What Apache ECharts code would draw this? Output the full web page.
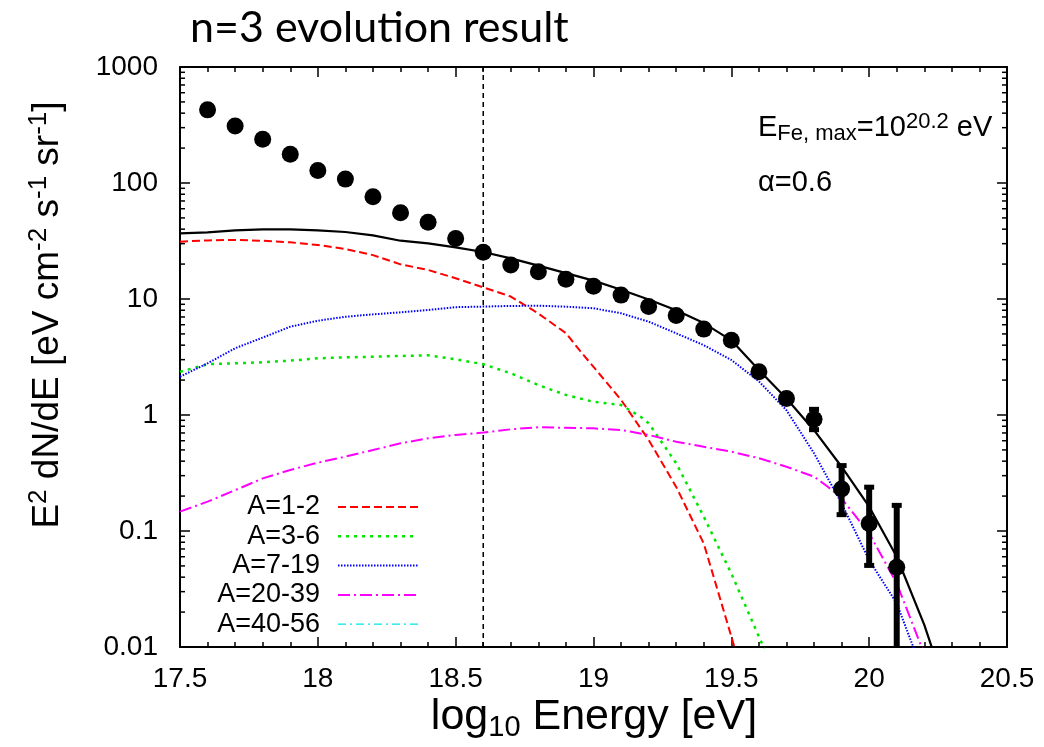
<!DOCTYPE html>
<html><head><meta charset="utf-8">
<script src="https://cdn.jsdelivr.net/npm/echarts@6/dist/echarts.min.js"></script>
<style>html,body{margin:0;padding:0;background:#fff}#c{width:1044px;height:747px}</style>
</head><body><div id="c"></div>
<script>
// ---------- data ----------
const yTickLabels = ['0.01', '0.1', '1', '10', '100', '1000'];
const xTickLabels = ['17.5', '18', '18.5', '19', '19.5', '20', '20.5'];

const dataE    = [17.6, 17.7, 17.8, 17.9, 18.0, 18.1, 18.2, 18.3, 18.4, 18.5, 18.6, 18.7, 18.8, 18.9, 19.0, 19.1, 19.2, 19.3, 19.4, 19.5, 19.6, 19.7, 19.8, 19.9, 20.0, 20.1];
const dataFlux = [427, 310, 238, 177, 128, 108, 76, 55.5, 45.8, 33.3, 25.3, 19.6, 17.2, 14.8, 12.9, 10.8, 8.6, 7.2, 5.5, 4.4, 2.36, 1.39, 0.92, 0.23, 0.116, 0.0486];

const errE    = [19.8, 19.9, 20.0, 20.1];
const errLow  = [0.74, 0.137, 0.050, 0.004];
const errHigh = [1.13, 0.37, 0.241, 0.168];

const totalE    = [17.5, 17.6, 17.7, 17.8, 17.9, 18.0, 18.1, 18.2, 18.3, 18.4, 18.5, 18.6, 18.7, 18.8, 18.9, 19.0, 19.1, 19.2, 19.3, 19.4, 19.5, 19.6, 19.7, 19.8, 19.9, 20.0, 20.1, 20.2, 20.23, 20.26];
const totalFlux = [36.8, 37.6, 39.1, 39.9, 39.9, 39.1, 37.8, 35.4, 31.8, 30.2, 27.9, 25.4, 22.4, 19.4, 16.7, 14.4, 12.0, 9.9, 8.0, 6.2, 4.4, 2.44, 1.39, 0.74, 0.358, 0.162, 0.060, 0.0155, 0.0095, 0.006];

const a12E    = [17.5, 17.6, 17.7, 17.8, 17.9, 18.0, 18.1, 18.2, 18.3, 18.4, 18.5, 18.6, 18.7, 18.8, 18.9, 18.95, 19.0, 19.1, 19.2, 19.3, 19.4, 19.5, 19.52];
const a12Flux = [31.2, 32.0, 32.3, 31.8, 30.8, 29.2, 27.0, 23.9, 19.9, 17.8, 15.1, 12.6, 10.5, 7.5, 5.07, 3.6, 2.6, 1.35, 0.61, 0.24, 0.078, 0.0123, 0.0085];

const a36E    = [17.5, 17.6, 17.7, 17.8, 17.9, 18.0, 18.1, 18.2, 18.3, 18.4, 18.5, 18.6, 18.7, 18.8, 18.9, 19.0, 19.1, 19.17, 19.2, 19.3, 19.4, 19.5, 19.6, 19.63];
const a36Flux = [2.36, 2.74, 2.79, 2.85, 2.94, 3.08, 3.14, 3.18, 3.23, 3.27, 3.02, 2.74, 2.29, 1.81, 1.49, 1.30, 1.22, 0.97, 0.85, 0.384, 0.133, 0.043, 0.0123, 0.0085];

const a719E    = [17.5, 17.6, 17.7, 17.8, 17.9, 18.0, 18.1, 18.2, 18.3, 18.4, 18.5, 18.6, 18.7, 18.8, 18.9, 19.0, 19.1, 19.2, 19.3, 19.4, 19.5, 19.6, 19.7, 19.8, 19.9, 20.0, 20.1, 20.16, 20.2];
const a719Flux = [2.14, 2.79, 3.76, 4.65, 5.77, 6.50, 7.03, 7.37, 7.68, 8.04, 8.5, 8.6, 8.71, 8.75, 8.59, 8.32, 7.53, 6.38, 5.06, 4.0, 2.98, 1.95, 1.10, 0.468, 0.173, 0.056, 0.0238, 0.01, 0.006];

const a2039E    = [17.5, 17.6, 17.7, 17.8, 17.9, 18.0, 18.1, 18.2, 18.3, 18.4, 18.5, 18.6, 18.7, 18.8, 18.9, 19.0, 19.1, 19.2, 19.3, 19.4, 19.5, 19.6, 19.7, 19.8, 19.85, 19.9, 20.0, 20.1, 20.19, 20.22];
const a2039Flux = [0.147, 0.179, 0.225, 0.284, 0.336, 0.388, 0.438, 0.499, 0.570, 0.630, 0.673, 0.705, 0.753, 0.784, 0.776, 0.767, 0.743, 0.673, 0.589, 0.533, 0.483, 0.424, 0.358, 0.294, 0.241, 0.191, 0.0955, 0.0354, 0.01, 0.007];

const a4056E    = [];
const a4056Flux = [];

const vlineE = 18.6;

const legendNames = ['A=1-2', 'A=3-6', 'A=7-19', 'A=20-39', 'A=40-56'];

// ---------- styles ----------
const FONT = "'Liberation Sans', Arial, Helvetica, sans-serif";
const styles = [
  { color: '#ff0000', type: [8, 4], width: 2 },
  { color: '#00e600', type: [3, 5], width: 2.5 },
  { color: '#0000ff', type: [1.5, 1.5], width: 2 },
  { color: '#ff00ff', type: [12, 4, 2, 4], width: 2 },
  { color: '#00e5ee', type: [8, 4, 2, 4], width: 1.2 }
];

const zip = (a, b) => a.map((v, i) => [v, b[i]]);

const X0 = 17.5, X1 = 20.5;
const yMinor = [];
for (let d = -2; d < 3; d++) for (let k = 2; k <= 9; k++) yMinor.push([X0, k * Math.pow(10, d)]);

const chart = echarts.init(document.getElementById('c'), null, { renderer: 'canvas' });

const grid = { left: 180, right: 37, top: 67, bottom: 100 };

const xAxisBase = {
  type: 'value', min: X0, max: X1, interval: 0.5,
  axisLine: { show: true, onZero: false, lineStyle: { color: '#000', width: 2 } },
  axisTick: { show: true, inside: true, length: 10, lineStyle: { color: '#000', width: 1.5 } },
  minorTick: { show: true, splitNumber: 5, length: 5, lineStyle: { color: '#000', width: 1.5 } },
  splitLine: { show: false }, minorSplitLine: { show: false }
};
const yAxisBase = {
  type: 'log', logBase: 10, min: 0.01, max: 1000,
  axisLine: { show: true, onZero: false, lineStyle: { color: '#000', width: 2 } },
  axisTick: { show: true, inside: true, length: 10, lineStyle: { color: '#000', width: 1.5 } },
  minorTick: { show: false },
  splitLine: { show: false }
};

const lineSeries = (name, E, F, st) => ({
  name, type: 'line', data: zip(E, F), showSymbol: false, symbol: 'none',
  smooth: false, clip: true, z: 3,
  lineStyle: { color: st.color, width: st.width, type: st.type }
});

const legendGraphics = [];
const legY0 = 507, legDy = 29.3;
legendNames.forEach((n, i) => {
  const y = legY0 + i * legDy;
  legendGraphics.push({
    type: 'text', x: 320, y: y,
    style: { text: n, font: '27px ' + FONT, fill: '#000', align: 'right', verticalAlign: 'middle' }
  });
  legendGraphics.push({
    type: 'line', shape: { x1: 338, y1: y, x2: 418, y2: y },
    style: { stroke: styles[i].color, lineWidth: styles[i].width, lineDash: styles[i].type }
  });
});

const option = {
  backgroundColor: '#fff',
  animation: false,
  grid: grid,
  xAxis: [
    Object.assign({}, xAxisBase, {
      position: 'bottom',
      axisLabel: { show: true, margin: 18, fontSize: 28, fontFamily: FONT, color: '#000',
        formatter: (v) => xTickLabels[Math.round((v - X0) / 0.5)] }
    }),
    Object.assign({}, xAxisBase, { position: 'top', axisLabel: { show: false } })
  ],
  yAxis: [
    Object.assign({}, yAxisBase, {
      position: 'left',
      axisLabel: { show: true, margin: 22, fontSize: 28, fontFamily: FONT, color: '#000',
        formatter: (v) => yTickLabels[Math.round(Math.log10(v)) + 2] }
    }),
    Object.assign({}, yAxisBase, { position: 'right', axisLabel: { show: false } })
  ],
  series: [
    {
      name: 'minorTicks', type: 'custom', data: yMinor, silent: true, z: 5,
      encode: { x: 0, y: 1 },
      renderItem: (params, api) => {
        const p = api.coord([api.value(0), api.value(1)]);
        const cs = params.coordSys;
        const st = { stroke: '#000', lineWidth: 1.5 };
        return { type: 'group', children: [
          { type: 'line', shape: { x1: cs.x, y1: p[1], x2: cs.x + 5, y2: p[1] }, style: st },
          { type: 'line', shape: { x1: cs.x + cs.width, y1: p[1], x2: cs.x + cs.width - 5, y2: p[1] }, style: st }
        ]};
      }
    },
    {
      name: 'vline', type: 'line', data: [[vlineE, 0.01], [vlineE, 1000]], symbol: 'none', z: 2,
      lineStyle: { color: '#000', width: 1.5, type: [5, 4] }
    },
    lineSeries('total', totalE, totalFlux, { color: '#000', width: 2.2, type: 'solid' }),
    lineSeries(legendNames[0], a12E, a12Flux, styles[0]),
    lineSeries(legendNames[1], a36E, a36Flux, styles[1]),
    lineSeries(legendNames[2], a719E, a719Flux, styles[2]),
    lineSeries(legendNames[3], a2039E, a2039Flux, styles[3]),
    lineSeries(legendNames[4], a4056E, a4056Flux, styles[4]),
    {
      name: 'errors', type: 'custom', z: 6,
      data: errE.map((e, i) => [e, errLow[i], errHigh[i]]),
      encode: { x: 0, y: [1, 2] },
      renderItem: (params, api) => {
        const cs = params.coordSys;
        const top = api.coord([api.value(0), api.value(2)]);
        const bot = api.coord([api.value(0), api.value(1)]);
        const yTop = Math.max(top[1], cs.y);
        const yBot = Math.min(bot[1], cs.y + cs.height);
        const x = top[0];
        const children = [{ type: 'rect', shape: { x: x - 3, y: yTop, width: 6, height: yBot - yTop }, style: { fill: '#000' } }];
        if (top[1] >= cs.y) children.push({ type: 'rect', shape: { x: x - 5, y: top[1] - 2, width: 10, height: 5 }, style: { fill: '#000' } });
        if (bot[1] <= cs.y + cs.height) children.push({ type: 'rect', shape: { x: x - 5, y: bot[1] - 3, width: 10, height: 5 }, style: { fill: '#000' } });
        return { type: 'group', children };
      }
    },
    {
      name: 'data', type: 'scatter', data: zip(dataE, dataFlux), symbol: 'circle', symbolSize: 17, z: 7,
      itemStyle: { color: '#000', opacity: 1 }
    }
  ],
  graphic: [
    { type: 'text', x: 190, y: 28,
      style: { text: 'n=3 evolution result', font: "43px Lato, 'Open Sans', sans-serif", fill: '#000', verticalAlign: 'middle' } },
    { type: 'text', x: 594, y: 717,
      style: { text: '{b|log}{s|10}{b| Energy [eV]}', align: 'center', verticalAlign: 'middle',
        rich: { b: { font: '43px ' + FONT, fill: '#000', lineHeight: 50, verticalAlign: 'middle' },
                s: { font: '29px ' + FONT, fill: '#000', lineHeight: 50, verticalAlign: 'bottom', padding: [16, 0, 0, 0] } } } },
    { type: 'text', x: 48, y: 315, rotation: Math.PI / 2,
      style: { text: '{b|E}{p|2}{b| dN/dE [eV cm}{p|-2}{b| s}{p|-1}{b| sr}{p|-1}{b|]}', align: 'center', verticalAlign: 'middle',
        rich: { b: { font: '37px ' + FONT, fill: '#000', lineHeight: 44, verticalAlign: 'middle' },
                p: { font: '26px ' + FONT, fill: '#000', lineHeight: 44, verticalAlign: 'top', padding: [0, 0, 16, 0] } } } },
    { type: 'text', x: 758, y: 128,
      style: { text: '{b|E}{s|Fe, max}{b|=10}{p|20.2}{b| eV}', align: 'left', verticalAlign: 'middle',
        rich: { b: { font: '29px ' + FONT, fill: '#000', lineHeight: 34, verticalAlign: 'middle' },
                s: { font: '22px ' + FONT, fill: '#000', lineHeight: 34, verticalAlign: 'bottom', padding: [12, 0, 0, 0] },
                p: { font: '22px ' + FONT, fill: '#000', lineHeight: 34, verticalAlign: 'top', padding: [0, 0, 12, 0] } } } },
    { type: 'text', x: 758, y: 183,
      style: { text: 'α=0.6', font: '29px ' + FONT, fill: '#000', align: 'left', verticalAlign: 'middle' } }
  ].concat(legendGraphics)
};
chart.setOption(option);
</script>
</body></html>
